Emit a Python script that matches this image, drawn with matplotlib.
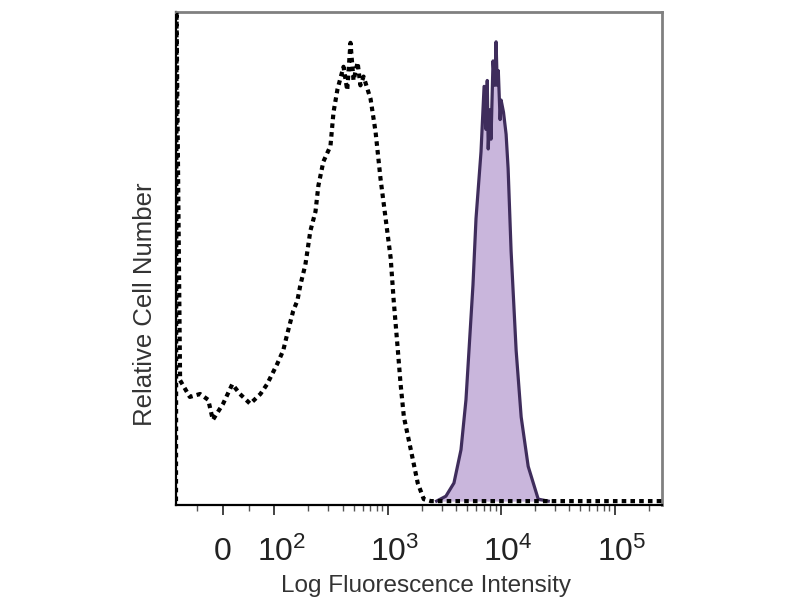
import matplotlib
matplotlib.use("Agg")
import matplotlib.pyplot as plt
import matplotlib.transforms as mtransforms
import numpy as np

plt.rcParams['font.family'] = ['Liberation Sans', 'DejaVu Sans']
plt.rcParams['mathtext.fontset'] = 'custom'
plt.rcParams['mathtext.rm'] = 'Liberation Sans'
plt.rcParams['mathtext.it'] = 'Liberation Sans'

# Isotype control (dashed) histogram: fluorescence value, relative count
control_x = [-92, -91, -84, -65, -45, -29, -20, 0, 18, 33, 53, 73, 86, 106, 120, 130,
             147, 160, 170, 188, 196, 208, 231, 245, 271, 313, 333, 361, 408, 440,
             470, 500, 543, 575, 613, 707, 782, 865, 959, 1063, 1130, 1230, 1300,
             1390, 1600, 1840, 2080, 2400, 2940, 10000, 100000, 262143]
control_y = [0, 100, 24.7, 21.3, 21.9, 20.7, 16.6, 19.9, 23.9, 21.9, 19.9, 21.9, 23.9,
             28.0, 30.8, 34.1, 38.9, 41.0, 44.2, 48.3, 51.1, 55.2, 59.2, 64.5, 69.4,
             72.6, 79.5, 84.2, 88.8, 84.0, 93.7, 86.0, 89.7, 85.0, 86.8, 82.2, 75.5,
             65.9, 57.8, 49.7, 41.0, 30.8, 23.9, 17.2, 10.5, 3.7, 0.4, 0.0, 0.0, 0.0,
             0.0, 0.0]

# Stained sample (filled) histogram
stained_x = [2700, 3260, 3840, 4430, 4900, 5210, 5650, 6010, 6650, 7080, 7370, 7550,
             7700, 7950, 8150, 8490, 8800, 9030, 9250, 9450, 9800, 10000, 10500, 11070,
             11530, 12250, 13570, 15030, 17330, 21250, 26050]
stained_y = [0, 1.0, 3.7, 10.5, 20.7, 30.8, 44.2, 57.8, 71.4, 84.8, 76.0, 86.0, 72.0,
             80.0, 74.0, 90.0, 85.0, 93.9, 85.0, 88.0, 78.0, 82.0, 79.5, 75.0, 68.0,
             51.1, 30.8, 17.2, 7.1, 0.4, 0.0]

major_ticks = [0, 1e2, 1e3, 1e4, 1e5]
major_labels = ['0', r'$10^2$', r'$10^3$', r'$10^4$', r'$10^5$']

fig = plt.figure(figsize=(8, 6), dpi=100)
ax = fig.add_axes([0.22, 0.1583, 0.6075, 0.8217])
ax.set_xscale('symlog', linthresh=100, linscale=0.406)
ax.set_xlim(-92, 262143)
ax.set_ylim(-0.8, 100)

ax.fill_between(stained_x, stained_y, 0, color='#c9b6dc', linewidth=0, zorder=2)
ax.plot(stained_x, stained_y, color='#3f2d5c', linewidth=2.3, zorder=3)
ax.plot(control_x, control_y, color='black', linewidth=3.0,
        linestyle=(0, (1.1, 1.0)), zorder=4)

ax.set_xticks(major_ticks)
ax.set_xticklabels(major_labels)
minor = []
for d in [100, 1000, 10000, 100000]:
    for m in range(2, 10):
        if d * m <= 262143:
            minor.append(d * m)
minor += [-50, 50]
ax.set_xticks(minor, minor=True)
ax.set_yticks([])
ax.tick_params(axis='x', which='major', direction='out', length=7, width=1.2,
               labelsize=23, pad=16, colors='#222222')
ax.tick_params(axis='x', which='minor', direction='out', length=4, width=1.0,
               colors='#555555')

# anchor the "10" base on the tick, superscript hangs to the right
for lab, txt in zip(ax.get_xticklabels(), major_labels):
    if txt != '0':
        off = mtransforms.ScaledTranslation(7 / 100, 0, fig.dpi_scale_trans)
        lab.set_transform(lab.get_transform() + off)

for s in ['left', 'bottom']:
    ax.spines[s].set_color('black')
    ax.spines[s].set_linewidth(1.6)
for s in ['top', 'right']:
    ax.spines[s].set_color('#808080')
    ax.spines[s].set_linewidth(2.0)

fig.text(0.533, 0.0133, 'Log Fluorescence Intensity', ha='center', va='baseline',
         fontsize=17.5, color='#333333')
fig.text(0.181, 0.493, 'Relative Cell Number', ha='center', va='center',
         rotation=90, fontsize=18.5, color='#333333')

fig.savefig('out.png', dpi=100)
